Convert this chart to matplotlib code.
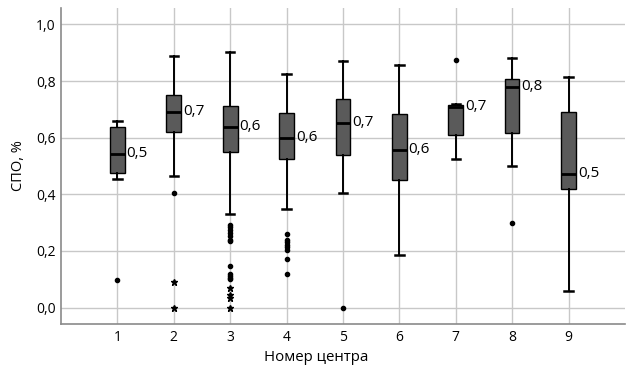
import matplotlib
matplotlib.use("Agg")
import matplotlib.pyplot as plt

centers = [1, 2, 3, 4, 5, 6, 7, 8, 9]
q1 = [0.474, 0.620, 0.550, 0.524, 0.539, 0.451, 0.611, 0.618, 0.419]
med = [0.543, 0.692, 0.638, 0.600, 0.653, 0.558, 0.710, 0.780, 0.473]
q3 = [0.637, 0.752, 0.712, 0.686, 0.737, 0.685, 0.714, 0.808, 0.691]
whislo = [0.453, 0.465, 0.332, 0.347, 0.403, 0.187, 0.525, 0.500, 0.059]
whishi = [0.659, 0.888, 0.903, 0.825, 0.872, 0.856, 0.718, 0.880, 0.815]
labels = ["0,5", "0,7", "0,6", "0,6", "0,7", "0,6", "0,7", "0,8", "0,5"]
outliers_dot = [
    [0.098],
    [0.403],
    [0.291, 0.284, 0.274, 0.263, 0.254, 0.239, 0.236, 0.146, 0.119, 0.112, 0.106, 0.100],
    [0.259, 0.239, 0.230, 0.222, 0.213, 0.204, 0.172, 0.117],
    [0.0],
    [],
    [0.875],
    [0.298],
    [],
]
outliers_star = [
    [],
    [0.091, 0.0],
    [0.069, 0.045, 0.033, 0.0],
    [], [], [], [], [], [],
]
yticks = [0.0, 0.2, 0.4, 0.6, 0.8, 1.0]
ytick_labels = ["0,0", "0,2", "0,4", "0,6", "0,8", "1,0"]

plt.rcParams['font.family'] = ['Open Sans', 'DejaVu Sans']

fig = plt.figure(figsize=(6.3, 3.74), dpi=100)
ax = fig.add_axes([0.0968, 0.1337, 0.8952, 0.8449])

stats = []
for i in range(len(centers)):
    stats.append(dict(med=med[i], q1=q1[i], q3=q3[i], whislo=whislo[i],
                      whishi=whishi[i], fliers=outliers_dot[i]))

ax.bxp(stats, positions=centers, widths=0.26, patch_artist=True,
       showfliers=True,
       boxprops=dict(facecolor='#5a5a5a', edgecolor='black', linewidth=1.0),
       medianprops=dict(color='black', linewidth=2.0),
       whiskerprops=dict(color='black', linewidth=1.4),
       capprops=dict(color='black', linewidth=1.8),
       capwidths=0.15,
       flierprops=dict(marker='o', markersize=3.0, markerfacecolor='black',
                       markeredgecolor='black', linestyle='none'),
       zorder=3)

for i, c in enumerate(centers):
    if outliers_star[i]:
        ax.plot([c] * len(outliers_star[i]), outliers_star[i], linestyle='none',
                marker='*', markersize=4.5, color='black', zorder=4)
    ax.text(c + 0.165, med[i], labels[i], fontsize=11, va='center', ha='left',
            color='black', zorder=5)

ax.set_xlim(0, 10)
ax.set_ylim(-0.058, 1.058)
ax.set_xticks(centers)
ax.set_xticklabels([str(c) for c in centers])
ax.set_yticks(yticks)
ax.set_yticklabels(ytick_labels)
ax.tick_params(axis='both', length=0, labelsize=10, pad=4)
ax.grid(True, color='#c8c8c8', linewidth=1.0, zorder=0)
ax.set_axisbelow(True)
for s in ['top', 'right']:
    ax.spines[s].set_visible(False)
for s in ['left', 'bottom']:
    ax.spines[s].set_color('#8a8a8a')
    ax.spines[s].set_linewidth(1.2)
ax.set_xlabel("Номер центра", fontsize=10.8, labelpad=4)
ax.xaxis.set_label_coords(0.452, -0.082)
ax.set_ylabel("СПО, %", fontsize=10.5, labelpad=7)

fig.savefig("out.png", dpi=100)
